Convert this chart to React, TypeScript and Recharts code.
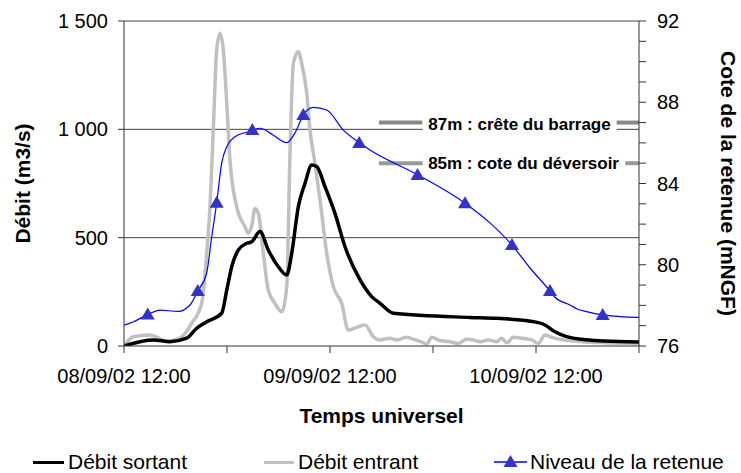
import React from 'react';
import { LineChart, Line, XAxis, YAxis, ReferenceLine, ReferenceDot, Legend } from 'recharts';

// hours since 08/09/02 12:00
const entrantHours = [0, 1.08, 3.03, 4.97, 6.52, 7.89, 9.05, 9.64, 10.02, 10.4, 10.8, 11.18, 11.57, 11.97, 12.35, 13.13, 14.1, 14.48, 14.91, 15.26, 15.65, 16.23, 16.81, 17.59, 18.37, 18.96, 19.34, 19.73, 20.31, 20.7, 21.29, 21.67, 22.25, 22.84, 23.62, 24.39, 25.36, 26.13, 27.03, 28.08, 29.05, 29.83, 30.99, 31.77, 32.94, 33.71, 34.87, 35.27, 35.85, 36.82, 37.98, 38.95, 39.93, 40.7, 41.48, 42.44, 43.42, 44.0, 44.59, 45.36, 46.34, 47.5, 48.27, 49.05, 49.83, 51.38, 53.33, 56.04, 60];
const entrantValues = [0, 43, 51, 23, 36, 105, 197, 428, 643, 997, 1366, 1443, 1366, 1120, 858, 643, 550, 520, 560, 635, 612, 428, 258, 197, 158, 274, 889, 1305, 1358, 1305, 1166, 997, 843, 674, 428, 274, 197, 74, 85, 97, 43, 28, 36, 28, 40, 31, 15, 8, 40, 25, 20, 12, 31, 28, 20, 28, 20, 36, 15, 40, 36, 28, 12, 51, 40, 28, 20, 15, 12];

const sortantHours = [0, 3.41, 5.36, 7.31, 8.47, 9.64, 11.38, 11.97, 12.55, 13.32, 14.3, 14.88, 15.85, 16.81, 17.98, 18.96, 19.54, 20.31, 21.09, 21.87, 22.45, 23.42, 24.58, 25.75, 27.3, 28.86, 29.83, 31.38, 40.31, 43.42, 48.27, 49.05, 50.21, 51.38, 53.33, 56.04, 60];
const sortantValues = [0, 28, 20, 36, 82, 112, 151, 258, 366, 443, 474, 481, 528, 443, 366, 328, 428, 643, 751, 835, 828, 735, 612, 458, 320, 228, 197, 151, 132, 128, 108, 97, 66, 46, 31, 23, 18];

const niveauHours = [0, 1.05, 2.76, 4.19, 6.29, 7.69, 8.59, 9.63, 10.22, 10.8, 11.38, 11.97, 12.93, 14.49, 15.85, 17.36, 18.96, 19.92, 20.89, 22.06, 23.62, 25.55, 27.3, 28.66, 34.25, 39.73, 42.64, 45.2, 47.3, 49.63, 50.21, 51.96, 52.93, 53.9, 55.77, 57.8, 60];
const niveauValues = [77.03, 77.18, 77.55, 77.77, 77.7, 78.02, 78.71, 79.59, 81.38, 83.05, 85.0, 85.81, 86.3, 86.55, 86.72, 86.39, 86.01, 86.49, 87.37, 87.75, 87.62, 86.63, 86.04, 85.65, 84.42, 83.03, 82.06, 80.97, 79.84, 78.71, 78.4, 78.02, 77.8, 77.69, 77.53, 77.45, 77.41];

const markerHours = [2.76, 8.59, 10.8, 14.95, 20.89, 27.4, 34.2, 39.73, 45.2, 49.63, 55.77];
const markerValues = [77.55, 78.71, 83.05, 86.63, 87.37, 86.0, 84.42, 83.03, 80.97, 78.71, 77.53];

const xTicks = [0, 12, 24, 36, 48, 60];
const xTickLabels = ['08/09/02 12:00', '', '09/09/02 12:00', '', '10/09/02 12:00', ''];
const leftTicks = [0, 500, 1000, 1500];
const leftTickLabels = ['0', '500', '1 000', '1 500'];
const rightTicks = [76, 77, 78, 79, 80, 81, 82, 83, 84, 85, 86, 87, 88, 89, 90, 91, 92];
const rightTickLabels = ['76', '', '', '', '80', '', '', '', '84', '', '', '', '88', '', '', '', '92'];

const toPoints = (hs: number[], vs: number[]) => hs.map((h, i) => ({ h, v: vs[i] }));

const entrant = toPoints(entrantHours, entrantValues);
const sortant = toPoints(sortantHours, sortantValues);
const niveau = toPoints(niveauHours, niveauValues);
const markers = toPoints(markerHours, markerValues);

const FONT = '"Liberation Sans", Arial, sans-serif';
const tickStyle = { fontSize: 20, fill: '#000', fontFamily: FONT };

const Triangle = (props: any) => {
  const { cx, cy } = props;
  if (cx == null || cy == null) return null;
  return <polygon points={`${cx},${cy - 7} ${cx - 7},${cy + 5} ${cx + 7},${cy + 5}`} fill="#3333cc" />;
};

const leftTitle = (props: any) => {
  const vb = props.viewBox;
  const cx = 22;
  const cy = vb.y + vb.height / 2;
  return (
    <text x={cx} y={cy} transform={`rotate(-90 ${cx} ${cy})`} textAnchor="middle" dominantBaseline="central"
      fontSize={21} fontWeight="bold" fontFamily={FONT} fill="#000">Débit (m3/s)</text>
  );
};

const rightTitle = (props: any) => {
  const vb = props.viewBox;
  const cx = 728;
  const cy = vb.y + vb.height / 2;
  return (
    <text x={cx} y={cy} transform={`rotate(90 ${cx} ${cy})`} textAnchor="middle" dominantBaseline="central"
      fontSize={21} fontWeight="bold" fontFamily={FONT} fill="#000">Cote de la retenue (mNGF)</text>
  );
};

const legendText = { position: 'absolute' as const, top: 0, fontSize: 21, fontFamily: FONT, color: '#000', lineHeight: '24px', whiteSpace: 'nowrap' as const };

const renderLegend = () => (
  <div style={{ position: 'relative', width: 741, height: 24 }}>
    <div style={{ position: 'absolute', left: 33, top: 11, width: 31, height: 3, background: '#000' }} />
    <div style={{ ...legendText, left: 68 }}>Débit sortant</div>
    <div style={{ position: 'absolute', left: 264, top: 11, width: 30, height: 3, background: '#c0c0c0' }} />
    <div style={{ ...legendText, left: 298 }}>Débit entrant</div>
    <svg style={{ position: 'absolute', left: 494, top: 0 }} width={34} height={24}>
      <line x1={0} y1={12} x2={33} y2={12} stroke="#0000ff" strokeWidth={1.5} />
      <polygon points="16.5,5 9.5,17 23.5,17" fill="#3333cc" />
    </svg>
    <div style={{ ...legendText, left: 530 }}>Niveau de la retenue</div>
  </div>
);

const label87 = { value: '87m : crête du barrage', position: 'center' as const, fontSize: 17, fontWeight: 'bold', fill: '#000', fontFamily: FONT, dy: 1 };
const label85 = { value: '85m : cote du déversoir', position: 'center' as const, fontSize: 17, fontWeight: 'bold', fill: '#000', fontFamily: FONT, dy: 0 };

export default function App() {
  return (
    <div style={{ position: 'absolute', left: 0, top: 0 }}>
      <LineChart width={741} height={473} margin={{ top: 21, right: 0, bottom: 0, left: 0 }} style={{ fontFamily: FONT }}>
        <XAxis
          type="number"
          dataKey="h"
          domain={[0, 60]}
          allowDataOverflow
          ticks={xTicks}
          tickFormatter={(v: number) => xTickLabels[xTicks.indexOf(v)] ?? ''}
          interval={0}
          height={127}
          tick={tickStyle}
          tickSize={7}
          tickMargin={16}
          stroke="#333"
          label={{ value: 'Temps universel', position: 'insideTop', offset: 62, fontSize: 21, fontWeight: 'bold', fill: '#000', fontFamily: FONT }}
        />
        <YAxis
          yAxisId="left"
          domain={[0, 1500]}
          allowDataOverflow
          ticks={leftTicks}
          tickFormatter={(v: number) => leftTickLabels[leftTicks.indexOf(v)] ?? ''}
          interval={0}
          width={124}
          tick={tickStyle}
          tickSize={6}
          tickMargin={10}
          stroke="#333"
          label={{ content: leftTitle }}
        />
        <YAxis
          yAxisId="right"
          orientation="right"
          domain={[76, 92]}
          allowDataOverflow
          ticks={rightTicks}
          tickFormatter={(v: number) => rightTickLabels[rightTicks.indexOf(v)] ?? ''}
          interval={0}
          width={102}
          tick={tickStyle}
          tickSize={7}
          tickMargin={11}
          stroke="#333"
          label={{ content: rightTitle }}
        />

        <ReferenceLine yAxisId="left" y={1500} stroke="#444" strokeWidth={1} />
        <ReferenceLine yAxisId="left" y={500} stroke="#444" strokeWidth={1} />
        <ReferenceLine yAxisId="left" segment={[{ x: 0, y: 1000 }, { x: 34.8, y: 1000 }]} stroke="#444" strokeWidth={1} />
        <ReferenceLine yAxisId="left" segment={[{ x: 57.4, y: 1000 }, { x: 60, y: 1000 }]} stroke="#444" strokeWidth={1} />

        <ReferenceLine yAxisId="right" segment={[{ x: 29.7, y: 87 }, { x: 34.75, y: 87 }]} stroke="#888" strokeWidth={4} />
        <ReferenceLine yAxisId="right" segment={[{ x: 57.4, y: 87 }, { x: 60, y: 87 }]} stroke="#888" strokeWidth={4} />
        <ReferenceLine yAxisId="right" segment={[{ x: 29.7, y: 85 }, { x: 34.8, y: 85 }]} stroke="#999" strokeWidth={4} />
        <ReferenceLine yAxisId="right" segment={[{ x: 58.4, y: 85 }, { x: 60, y: 85 }]} stroke="#999" strokeWidth={4} />

        <Line yAxisId="left" data={entrant} dataKey="v" type="monotone" stroke="#c0c0c0" strokeWidth={3.5} dot={false} isAnimationActive={false} />
        <Line yAxisId="left" data={sortant} dataKey="v" type="monotone" stroke="#000" strokeWidth={3.5} dot={false} isAnimationActive={false} />
        <Line yAxisId="right" data={niveau} dataKey="v" type="monotone" stroke="#0000ff" strokeWidth={1.2} dot={false} isAnimationActive={false} />
        <Line yAxisId="right" data={markers} dataKey="v" stroke="none" dot={<Triangle />} activeDot={false} isAnimationActive={false} />

        <ReferenceDot yAxisId="right" x={46.08} y={87} r={0} fill="none" stroke="none" label={label87} />
        <ReferenceDot yAxisId="right" x={46.55} y={85} r={0} fill="none" stroke="none" label={label85} />

        <Legend verticalAlign="middle" align="center" layout="horizontal" content={renderLegend}
          wrapperStyle={{ left: 0, top: 450, width: 741 }} />
      </LineChart>
    </div>
  );
}
